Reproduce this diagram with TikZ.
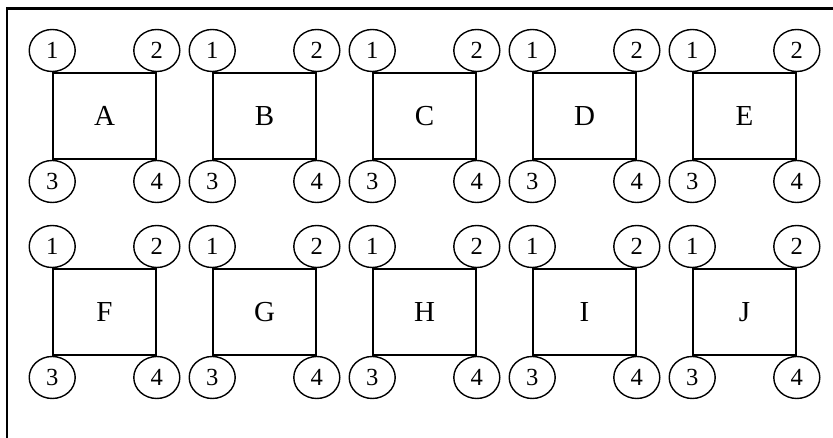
\documentclass[tikz,border=0pt]{standalone}
\usepackage{fontspec}
\setmainfont{Liberation Serif}
\usetikzlibrary{positioning, shapes.geometric}
\tikzset{
  cellbox/.style={draw, line width=0.9pt, minimum width=20.6mm,
                  minimum height=17.2mm, inner sep=0pt,
                  font=\fontsize{16.5}{16.5}\selectfont},
  pinnode/.style={draw, ellipse, line width=0.8pt, minimum width=9.2mm,
                  minimum height=8.4mm, inner sep=0pt,
                  font=\fontsize{14}{14}\selectfont},
  frameline/.style={line width=1.6pt},
}

\begin{document}
\begin{tikzpicture}
\useasboundingbox (0,0) rectangle (16.66,-8.76);
% ---- frame: only top and left edges show ----
\coordinate (ftr) at (16.66,-0.17);
\coordinate (ftl) at (0.14,-0.17);
\coordinate (fbl) at (0.14,-8.76);
\draw[frameline] (ftr) -- (ftl) -- (fbl);
% ---- ten blocks, five per row, a pin at each corner ----
\foreach \blk [count=\i from 0] in {A,B,C,D,E,F,G,H,I,J} {
  \pgfmathsetmacro{\cx}{2.09+3.2*mod(\i,5)}
  \pgfmathsetmacro{\cy}{-2.32-3.92*int(\i/5)}
  \node[cellbox] (\blk) at (\cx,\cy) {\blk};
  \node[pinnode, above=0pt of \blk.north west] (\blk1) {1};
  \node[pinnode, above=0pt of \blk.north east] (\blk2) {2};
  \node[pinnode, below=0pt of \blk.south west] (\blk3) {3};
  \node[pinnode, below=0pt of \blk.south east] (\blk4) {4};
}
\end{tikzpicture}
\end{document}
